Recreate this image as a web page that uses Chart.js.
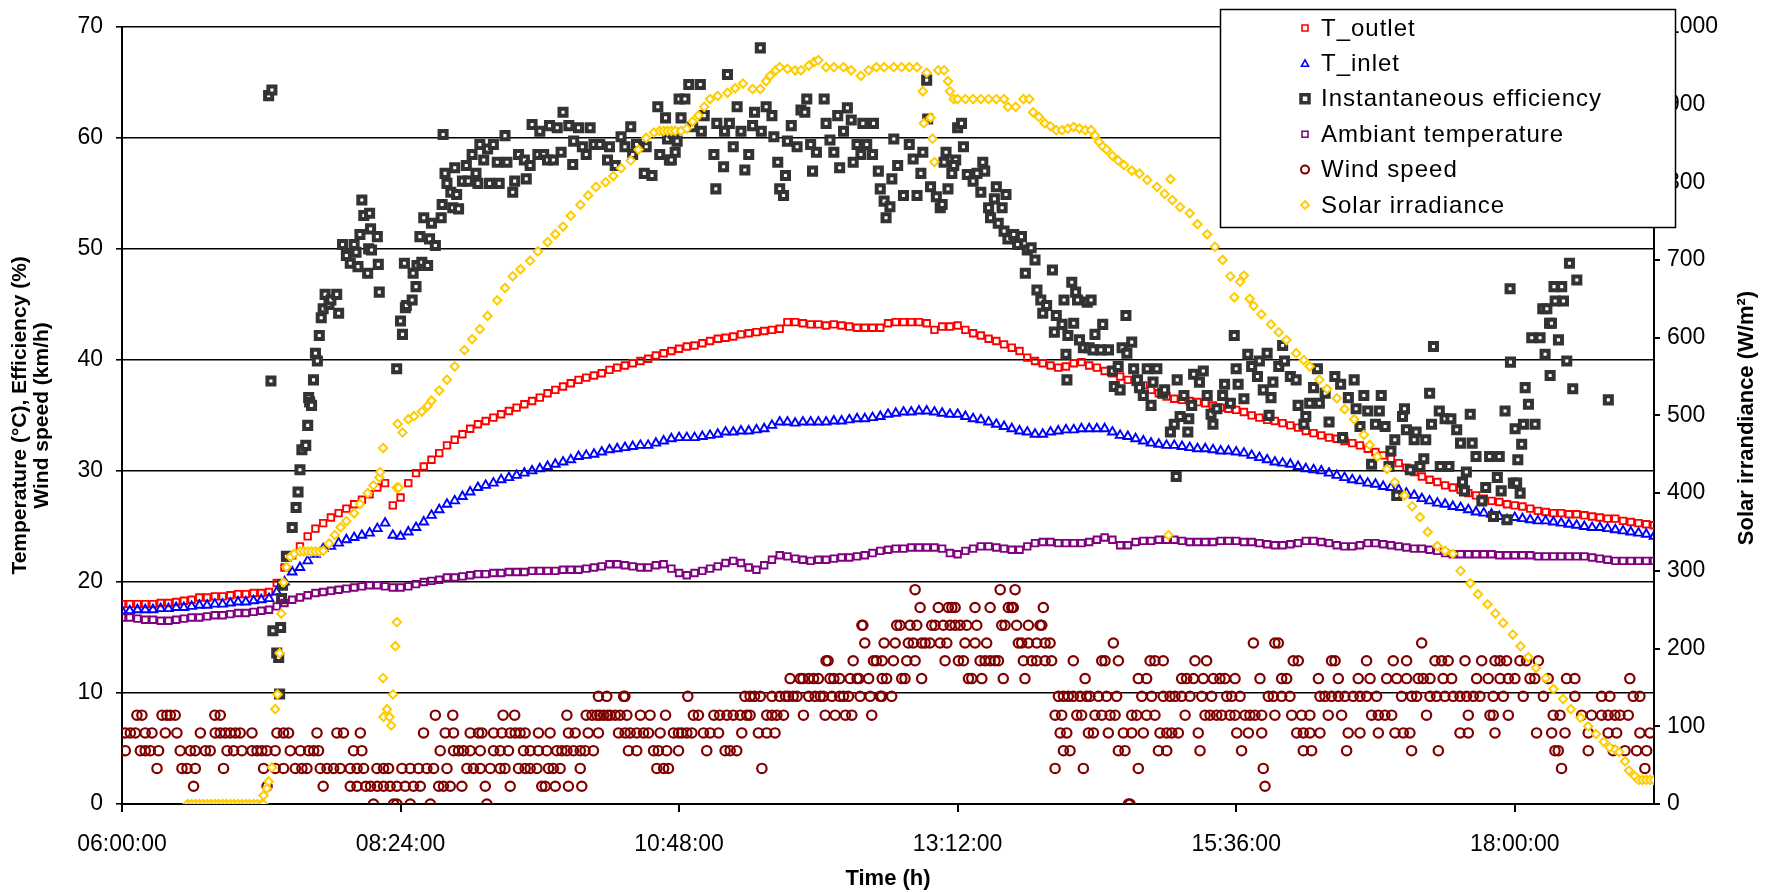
<!DOCTYPE html>
<html>
<head>
<meta charset="utf-8">
<script src="https://cdn.jsdelivr.net/npm/chart.js@4.4.1/dist/chart.umd.min.js"></script>
<style>
  html, body { margin: 0; padding: 0; background: #fff; }
  #wrap { width: 1769px; height: 892px; position: relative; }
</style>
</head>
<body>
<div id="wrap"><canvas id="solarChart"></canvas></div>
<script>
// x values are minutes after 06:00:00
const TEMP_STEP = 4; // temperature series: one reading every 4 minutes from 06:00

const tOutlet = [
  18.0,18.0,18.0,18.0,18.0,18.1,18.1,18.2,18.3,18.4,
  18.6,18.6,18.7,18.7,18.8,18.9,18.9,19.0,19.0,19.1,
  19.9,21.3,22.4,23.2,24.1,24.8,25.3,25.8,26.2,26.6,
  27.0,27.4,27.9,28.5,28.9,26.9,27.6,28.9,29.8,30.4,
  31.0,31.6,32.3,32.8,33.3,33.8,34.2,34.5,34.8,35.1,
  35.4,35.7,36.0,36.3,36.6,37.0,37.3,37.6,37.9,38.2,
  38.4,38.6,38.8,39.1,39.3,39.5,39.7,39.9,40.1,40.4,
  40.6,40.8,41.0,41.2,41.3,41.5,41.7,41.9,42.0,42.1,
  42.3,42.4,42.5,42.6,42.7,42.8,43.4,43.4,43.3,43.2,
  43.2,43.1,43.2,43.1,43.0,42.9,42.9,42.9,42.9,43.3,
  43.4,43.4,43.4,43.4,43.3,42.7,43.0,43.0,43.1,42.7,
  42.4,42.2,41.9,41.7,41.4,41.1,40.8,40.2,39.9,39.7,
  39.5,39.3,39.4,39.7,39.8,39.5,39.3,39.0,38.8,38.5,
  38.2,38.0,37.7,37.3,37.0,36.7,36.5,36.4,36.3,36.2,
  36.1,35.9,35.7,35.6,35.5,35.3,35.0,34.8,34.6,34.5,
  34.3,34.1,33.9,33.6,33.4,33.2,33.0,32.9,32.7,32.5,
  32.3,32.0,31.7,31.4,31.1,30.7,30.3,29.9,29.5,29.2,
  29.0,28.7,28.5,28.3,28.0,27.8,27.5,27.3,27.2,27.0,
  26.9,26.8,26.6,26.4,26.3,26.2,26.2,26.1,26.1,26.0,
  25.9,25.8,25.7,25.7,25.5,25.4,25.3,25.2,25.1
];

const tInlet = [
  17.4,17.4,17.5,17.5,17.5,17.6,17.6,17.7,17.7,17.8,
  17.9,17.9,18.0,18.0,18.1,18.2,18.2,18.3,18.4,18.5,
  19.1,20.0,20.9,21.3,21.9,22.5,23.0,23.2,23.5,23.8,
  24.0,24.2,24.4,24.8,25.3,24.2,24.1,24.5,24.9,25.4,
  26.0,26.5,27.0,27.3,27.7,28.1,28.5,28.7,28.9,29.2,
  29.4,29.6,29.8,30.0,30.2,30.4,30.6,30.8,31.0,31.3,
  31.4,31.5,31.7,31.9,32.0,32.1,32.2,32.3,32.3,32.5,
  32.7,32.9,33.0,33.0,33.0,33.1,33.2,33.3,33.5,33.5,
  33.6,33.6,33.7,33.8,34.1,34.4,34.4,34.3,34.4,34.4,
  34.4,34.4,34.5,34.5,34.6,34.7,34.7,34.8,34.9,35.1,
  35.2,35.3,35.3,35.4,35.4,35.3,35.2,35.1,35.1,34.9,
  34.7,34.6,34.4,34.2,34.0,33.8,33.6,33.5,33.3,33.3,
  33.5,33.6,33.7,33.7,33.8,33.8,33.8,33.8,33.5,33.2,
  33.1,32.9,32.7,32.5,32.4,32.3,32.3,32.2,32.1,32.0,
  32.0,31.9,31.8,31.8,31.7,31.6,31.4,31.2,31.0,30.8,
  30.7,30.6,30.4,30.2,30.1,30.0,29.8,29.6,29.4,29.2,
  29.1,28.9,28.8,28.6,28.5,28.3,28.0,27.8,27.5,27.3,
  27.1,27.0,26.8,26.7,26.5,26.3,26.2,26.1,25.9,25.6,
  25.8,25.7,25.6,25.5,25.5,25.4,25.3,25.2,25.1,25.0,
  24.9,24.9,24.8,24.7,24.6,24.5,24.4,24.3,24.1
];

const tAmbient = [
  16.8,16.8,16.7,16.6,16.6,16.5,16.5,16.6,16.7,16.8,
  16.8,16.9,17.0,17.0,17.1,17.2,17.2,17.3,17.4,17.5,
  17.8,18.1,18.4,18.6,18.8,19.0,19.1,19.2,19.3,19.4,
  19.5,19.6,19.7,19.7,19.6,19.5,19.5,19.6,19.8,20.0,
  20.1,20.2,20.4,20.4,20.5,20.6,20.7,20.7,20.8,20.8,
  20.9,20.9,20.9,21.0,21.0,21.0,21.0,21.1,21.1,21.1,
  21.2,21.3,21.4,21.6,21.6,21.5,21.4,21.3,21.3,21.5,
  21.6,21.2,20.8,20.6,20.8,21.0,21.2,21.4,21.7,21.9,
  21.7,21.3,21.1,21.5,22.0,22.4,22.3,22.1,22.0,21.9,
  22.0,22.0,22.1,22.2,22.2,22.3,22.4,22.6,22.8,22.9,
  23.0,23.0,23.1,23.1,23.1,23.1,23.0,22.6,22.5,22.8,
  23.0,23.2,23.2,23.1,23.0,22.9,22.9,23.2,23.5,23.6,
  23.6,23.5,23.5,23.5,23.5,23.6,23.8,24.0,23.8,23.3,
  23.3,23.6,23.7,23.7,23.8,23.8,23.8,23.7,23.6,23.6,
  23.6,23.6,23.7,23.7,23.7,23.6,23.6,23.5,23.4,23.3,
  23.3,23.4,23.5,23.7,23.7,23.6,23.5,23.3,23.2,23.2,
  23.3,23.5,23.5,23.4,23.3,23.2,23.1,23.0,23.0,22.9,
  22.8,22.6,22.5,22.5,22.5,22.5,22.5,22.5,22.4,22.4,
  22.4,22.4,22.4,22.3,22.3,22.3,22.3,22.3,22.3,22.3,
  22.2,22.1,22.0,21.9,21.9,21.9,21.9,21.9,21.9
];

// Instantaneous efficiency (%), [minute, value]
const efficiency = [
  [75.8,63.8],[77.5,64.3],[77,38.1],[78,15.6],[82,15.9],[80,13.6],[81,13.2],[81.5,9.9],[82.5,18.5],[83,19.7],
  [85,22.3],[88,24.9],[90,26.7],[91,28.1],[92,30.1],[93,31.9],[95,32.3],[96,34.1],[96.5,36.6],[97,36.2],
  [98,35.9],[99,38.2],[100,40.6],[101,39.9],[102,42.2],[103,43.8],[104,44.6],[105,45.9],[107,45.0],[108,45.4],
  [111,45.9],[112,44.2],[114,50.4],[116,49.4],[118,48.7],[120,50.4],[121,49.7],[122,48.4],[123,51.3],[124,54.4],
  [125,53.0],[127,47.8],[127.5,50.0],[128,53.2],[128.5,51.8],[129,49.9],[132,51.1],[132.5,48.6],[133,46.1],
  [142,39.2],[144,43.5],[145,42.3],[146,48.7],[146.5,44.7],[147,44.9],[150,45.4],[150.5,47.8],[152,46.6],[152.5,48.5],
  [155,48.8],[158,48.5],[154,51.1],[159,50.9],[162,50.3],[156,52.8],[160,52.3],[165,52.8],[165.5,54.0],[166,60.3],
  [167,56.8],[168,55.9],[170,55.1],[171,53.7],[174,53.6],[172,57.3],[173,54.9],[176,56.1],[178,57.5],[179,56.1],
  [181,58.5],[183,56.8],[184,55.9],[185,59.4],[187,58.0],[189,59.0],[190,55.9],[192,59.4],[194,57.8],[195,55.9],
  [198,60.2],[199,57.8],[202,55.1],[203,56.1],[205,58.5],[208,58.0],[209,56.3],[211,57.5],[212,61.2],[215,58.5],
  [216,60.6],[218,58.5],[220,58.0],[221,61.1],[223,58.0],[225,60.9],[227,58.7],[228,62.3],[231,61.1],[233,57.6],
  [233.5,59.7],[236,60.9],[238,59.2],[240,58.5],[242,60.9],[244,59.4],[247,59.4],[251,58.0],[252,59.2],[255,57.5],
  [258,60.1],[260,59.2],[263,61.0],[264,58.5],[266,59.4],[270,56.8],[274,56.6],[271,59.2],[277,62.8],[278,58.5],
  [281,61.8],[282,59.9],[283,58.0],[285,60.4],[288,63.5],[289,61.8],[284,58.0],[287,59.7],[286,58.7],[291,63.5],
  [293,64.8],[299,64.8],[295,61.0],[299.5,60.6],[301,62.0],[306,58.5],[307,55.4],[307.5,61.3],[311,57.4],[313,65.7],
  [311.5,60.6],[314,61.3],[316,59.2],[318,62.8],[320,60.6],[322,57.1],[324,58.5],[326,61.1],[327,62.3],[330,68.1],
  [330.5,60.6],[333,62.8],[336,62.0],[337,60.1],[339,57.8],[340,55.4],[342,54.8],[343,56.6],[344,59.7],[346,61.1],
  [349,59.2],[351,62.5],[353,62.3],[354,63.5],[356,59.4],[357,57.0],[359,58.7],[363,63.5],[364,61.3],[366,59.8],
  [368,58.7],[370,62.0],[371,57.3],[373,60.6],[375,62.7],[377,61.6],[378,57.8],[380,59.4],[382,58.5],[383,61.3],
  [385,59.4],[388,58.5],[388.5,61.3],[391,57.0],[392,55.4],[394,54.3],[395,52.8],[397,53.8],[398,56.3],[399,59.9],
  [401,57.5],[404,54.8],[407,59.4],[409,58.1],[411,54.8],[413,56.8],[414,58.7],[416,65.2],[416.5,61.7],[418,55.6],
  [421,54.7],[423,53.7],[425,57.8],[426,58.7],[427,55.4],[429,56.8],[431,58.0],[432,60.9],[424,54.0],[430,57.5],
  [434,61.3],[435,59.2],[437,56.7],[440,56.1],[442,56.8],[444,55.1],[445,57.8],[446,57.0],[448,53.7],[449,52.8],
  [451,54.5],[452,55.6],[453,52.3],[455,53.7],[457,54.9],[456,51.6],[458,50.9],[461,51.3],[463,50.4],[465,51.1],
  [467,47.8],[468,49.9],[470,50.1],[472,49.0],[473,46.3],[475,45.4],[476,44.2],[478,44.9],[481,48.1],[482,42.5],
  [483,44.0],[486,43.2],[487,45.4],[488,40.5],[488.5,38.2],[489,42.2],[491,47.0],[492,43.3],[493,46.1],[494,45.4],
  [495,41.8],[497,41.1],[499,45.2],[500,41.1],[501,45.4],[502,40.9],[503,42.3],[506,40.9],[507,43.2],[510,40.9],
  [512,39.0],[513,37.6],[515,39.4],[516,37.3],[519,44.0],[517,41.1],[519.5,40.6],[522,41.6],[523,39.2],[525,38.2],
  [526,37.5],[528,36.8],[530,39.2],[532,35.9],[533,38.0],[535,39.2],[538,37.0],[539,37.3],[542,33.5],[544,34.2],
  [545,29.5],[545.5,38.2],[547,34.9],[549,36.8],[551,33.5],[551.5,34.7],[553,35.9],[554,38.7],[557,38.0],[559,39.0],
  [561,36.8],[563,35.1],[564,34.2],[566,35.6],[569,36.8],[570,37.8],[573,36.1],[575,42.2],[576,39.2],[577,37.8],
  [580,36.5],[582,40.5],[584,39.4],[587,38.5],[588,39.9],[590,37.3],[592,40.6],[593,35.0],[594,36.6],[595,38.0],
  [598,39.4],[600,41.3],[601,39.9],[604,38.5],[607,38.2],[608,35.9],[611,34.2],[612,34.9],[614,36.1],[616,37.5],
  [618,39.2],[619,36.1],[622,37.0],[624,34.4],[627,38.5],[630,37.8],[631,33.0],[634,36.6],[637,38.2],[638,35.6],
  [640,34.0],[642,36.8],[644,35.4],[646,30.6],[648,34.2],[650,35.4],[651,36.8],[653,34.0],[655,30.4],[656,31.8],
  [658,32.8],[659,27.8],[662,34.9],[663,35.6],[664,33.7],[666,30.1],[668,32.8],[669,33.5],[671,30.4],[673,31.1],
  [674,32.8],[676,37.0],[677,34.2],[678,41.2],[681,35.4],[681.5,30.4],[684,34.7],[686,30.4],[687,34.7],[690,33.7],
  [692,32.5],[693,29.0],[694,28.2],[695,29.9],[697,35.1],[698,32.5],[700,31.3],[703,27.3],[705,28.5],[707,31.3],
  [709,25.9],[711,29.4],[712,31.3],[713,28.2],[715,35.4],[716,25.6],[717.6,46.4],[717.8,39.8],[719.3,28.9],[720.2,33.8],
  [721,28.9],[721.6,31.0],[722.8,28.0],[723.6,32.4],[724.5,34.2],[725.4,37.5],[727.1,36.0],[728.8,42.0],[730.5,34.2],[733.1,42.0],
  [734.5,44.6],[735.7,40.5],[736.6,44.6],[738,43.3],[738.3,38.6],[739,43.3],[740.3,46.6],[740.9,45.3],[742.6,41.8],[744.3,46.6],
  [745.2,45.3],[746.9,39.9],[748.3,48.7],[750,37.4],[752.1,47.2],[768.4,36.4]
];

// Solar irradiance (W/m2), [minute, value]
const irradiance = [
  [34,0],[36,0],[38,0],[40,0],[42,0],[44,0],[46,0],[48,0],[50,0],[52,0],[54,0],[56,0],[58,0],[60,0],
  [62,0],[64,0],[66,0],[68,0],[70,0],[72,0],[73,0],
  [73.2,11],[74.9,20],[75.8,29],[77.5,47],[79.2,122],[80.4,141],[81.5,194],[82.3,245],[83.5,285],[85,305],
  [87,318],[89,322],[92,325],[94,325],[96,325],[98,325],[100,325],[102,325],[104,326],[107,335],[110,346],[113,356],[116,364],
  [120,374],[123,386],[127,400],[130,410],[133,420],[133.5,427],[135,458],[134.9,162],[135.2,112],[137,122],
  [138.3,112],[139.2,101],[140.1,141],[141.3,203],[142.1,234],[142,407],[143,407],[142.5,489],[145,478],[148,495],
  [151,499],[155,505],[158,512],[160,519],[164,532],[168,546],[172,563],[177,584],[181,598],[185,611],
  [189,628],[194,648],[198,664],[202,679],[206,688],[211,699],[215,711],[220,723],[224,733],[228,743],
  [232,757],[237,771],[241,783],[245,794],[250,800],[254,808],[258,818],[263,828],[267,842],[271,857],
  [275,864],[278,866],[280,866],[282,866],[284,866],[286,866],[289,866],[292,869],[295,878],[298,886],[301,897],[304,907],[308,911],
  [313,915],[317,921],[321,927],[326,920],[330,920],[333,930],[335,937],[338,944],[340,948],[344,946],
  [348,944],[351,944],[355,950],[358,955],[360,957],[364,948],[368,948],[373,948],[377,944],[382,937],
  [386,944],[390,948],[394,948],[399,948],[403,948],[407,948],[411,948],[414,917],[414.5,876],[416,941],
  [418,883],[419,856],[420,826],[422,944],[425,944],[427,930],[428,917],[430,907],[432,907],[436,907],
  [440,907],[444,907],[448,907],[452,907],[456,907],[458,897],[462,897],[466,907],[469,907],[471,890],
  [474,884],[477,876],[480,872],[483,867],[486,867],[489,869],[492,871],[495,869],[498,867],[501,867],
  [503,860],[505,852],[507,846],[509,842],[512,834],[515,828],[518,822],[522,815],[526,811],[530,803],
  [535,794],[539,785],[542,804],[543,777],[547,768],[552,760],[556,746],[561,733],[565,717],[569,700],
  [573,679],[575,652],[578,672],[580,680],[583,650],[585,641],[589,630],[594,617],[598,607],[602,597],
  [607,580],[611,571],[614,563],[619,546],[623,534],[628,522],[632,508],[637,495],[642,475],[645,462],
  [649,447],[654,431],[658,414],[663,397],[667,383],[671,369],[675,350],[680,332],[684,326],[688,322],
  [692,300],[697,284],[701,270],[706,257],[710,245],[714,233],[719,218],[723,203],[727,189],[731,175],
  [736,162],[740,148],[745,135],[749,122],[754,111],[758,100],[762,90],[766,80],[769,73],[772,70],
  [774,67],[777,55],[779,43],[782,36],[784,31],[786,31],[788,31],[790,31],[792,31],[541,346]
];

// Wind speed (km/h): each speed level with the minutes where it was recorded
const windByLevel = [
  [0.0,  [130,140.4,142.1,149,159.4,188.6,520.3,521.1]],
  [1.6,  [37,75,104,118,121.5,126,128.5,132,135.2,138.6,142.1,146.4,150.7,154.2,163.7,166.2,169.7,175.7,187.8,
          200.7,217,218.8,224,230.8,237.7,590.9]],
  [3.2,  [18.1,31,33.6,37.9,52.5,73.2,79.2,83.5,89.6,93,95.6,102.5,106,109.4,112.8,118,121.5,124.9,131.8,135.2,
          137.8,144.7,149,153.3,157.6,161.1,168,178.3,181.7,185.2,190.4,195.5,198,205,208.4,211,214.5,220.5,223,
          226.5,236.9,276.5,280,282.5,330.8,482.4,497,525.4,590,744.2,787.3]],
  [4.8,  [1.7,9.5,12,14.6,18.9,30.1,35.3,37.9,43.1,45.6,54.3,57.7,62,67.2,69.8,72.3,74.9,79.2,87,92.2,96.5,99.1,
          101.6,119.7,124,164.5,171.4,174,176.6,180,185.2,192.1,195.5,199.8,207.6,211,215.3,219.6,224.8,227.4,230,
          233.4,236.9,239.4,243.7,261.8,266.1,274.8,277.3,281.6,287.7,302.3,311.8,314.4,317.8,486.7,490.1,515.1,
          518.5,535.8,540.1,557.3,578.8,610.7,615,633.1,666.7,680.5,740.8,742.5,758,770.9,777,783,788.2]],
  [6.4,  [1.7,4.3,6.9,12,15.5,22.4,28.4,40.5,48.2,50.8,53.4,56,58.6,61.1,67.2,80.1,83.5,86.1,100.8,111.1,114.5,
          123.2,155.9,167.1,171.4,180,184.3,186.1,192.1,196.4,200.7,203.3,205.8,208.4,215.3,221.3,230.8,234.3,241,
          246.3,256.7,260.1,262.7,266.1,269.6,272.2,278.2,285.1,287.7,289.4,292,294.6,300.6,304,308.4,320.4,329,
          333.3,337.6,485,488.4,499.6,502.2,509.9,517.7,522,528,536.6,540.1,542.7,546.1,556.4,576.3,582.3,589.2,
          607.3,610.7,614.1,619.3,633.9,640,649.5,658.1,662.4,665.8,691.7,696,709.8,731.3,739.1,746,758,768.3,
          772.7,784.7,789.9]],
  [8.0,  [7.7,10.3,20.7,23.2,25,27.5,48,50.8,162,171,197,203,230,240,243,245.5,247,249,251,252.4,255,257.5,261,
          268,273,281,295.4,298,306,309,312.7,316,319.6,323,324.7,333.3,336,338.5,342,352.3,363.5,368.7,374,377.3,
          387.6,482.4,485.8,493.6,496.1,503,506.5,510.8,513.4,522,524.6,529.7,534,549.6,559.9,562.5,565.9,568.5,
          572.8,575.4,580.6,583.1,585.7,589.2,596,604.7,609.8,614.1,623.6,630.5,646,649.5,652.9,656.4,674.4,696,
          707.2,708.9,716.7,739.9,743.4,754.6,759.7,764.9,768.3,771.8,774.4,778.7]],
  [9.7,  [246.3,250.6,259.3,260,292.5,322,324.7,327,330,336,340,343,344.5,347,349,355,358.3,361,362.6,367,371,373,
          375.6,381.6,386.8,392,392.8,397.9,484.1,486.7,489.2,491.8,495.3,498.7,500.4,504.8,509,514.2,527.2,532.3,
          538.3,541.8,544.4,547.8,552.1,558.2,563.3,571.1,573.7,578,592.6,595.2,599.5,603.8,619.3,621.9,625.3,
          628.8,632.2,636.5,640,643.4,648.6,661.5,666.7,669.3,676.2,679.6,683.9,688.2,691.7,695.1,698.6,702,708.9,
          714.1,724.4,734.8,751.1,764.9,769.2,781.3,784.7]],
  [11.3, [345.4,350.6,352,355,357.5,360,366,368,371,376.4,380,381,386,393,395.3,403.1,404.8,413.4,437.6,439.3,444.5,
          455.6,466.8,497.9,525.4,529.7,547.8,550.4,553.9,559,564.2,567.6,570.2,575.4,588.3,599.5,602.1,618.5,
          628.8,639.1,645.2,653.8,659,664.1,670.1,672.7,676.2,683,687.4,700.3,706.3,712.4,716.7,720.1,727.9,730.4,
          737.3,746.8,751.1,779.5]],
  [12.9, [364,365,378,388.5,390,393,398.8,405.7,410,425.5,432.4,435,443.6,446.2,448.8,451.3,453.1,466,470.3,
          472.9,477.2,480.6,491.8,506.5,508.2,515.1,531.5,534,538.3,554.7,560.7,605.5,608.1,625.3,627.1,643.4,657.2,
          664.1,678.8,682.2,685.6,694.3,702.9,709.8,712.4,715.8,722.7,726.1,732.2]],
  [14.5, [384,394,399.7,406.5,409.1,413.4,415.2,417.7,422.9,426.4,435.8,441,447,463.4,465.1,468.6,472.9,477.2,479.8,
          512.5,584.9,596,597.8,671.9]],
  [16.1, [382.5,383,400.5,402.2,407.4,410.9,418.6,420.3,424.6,428.1,430.7,433.3,436.7,441.9,454.8,456.5,462.5,
          468.6,474.6,475.5]],
  [17.7, [412.6,422,427.2,429,430.7,441,448.8,458.2,460,460.8,476.3]],
  [19.3, [410,454,461.7]]
];

const xTicks = [0, 144, 288, 432, 576, 720];
const X_MAX = 792; // 19:12

function uniformSeries(vals) {
  return vals.map((v, i) => ({ x: i * TEMP_STEP, y: v }));
}
function pairSeries(pairs) {
  return pairs.map(p => ({ x: p[0], y: p[1] }));
}
function windSeries() {
  const pts = [];
  windByLevel.forEach(([speed, times]) => {
    times.forEach(t => pts.push({ x: t, y: speed }));
  });
  return pts;
}
function clock(min) {
  const tot = 360 + min;
  const h = Math.floor(tot / 60);
  const m = Math.round(tot % 60);
  return String(h).padStart(2, '0') + ':' + String(m).padStart(2, '0') + ':00';
}

const FONT = "'Liberation Sans', Arial, sans-serif";

// legend and right axis title drawn by hand to match the original layout
const legendItems = [
  { label: 'T_outlet', shape: 'square', color: '#FF0000', size: 6, lw: 1.6 },
  { label: 'T_inlet', shape: 'triangle', color: '#0000FF', size: 7, lw: 1.6 },
  { label: 'Instantaneous efficiency', shape: 'square', color: '#333333', size: 8, lw: 3.5 },
  { label: 'Ambiant temperature', shape: 'square', color: '#800080', size: 6, lw: 1.6 },
  { label: 'Wind speed', shape: 'circle', color: '#800000', size: 8, lw: 2 },
  { label: 'Solar irradiance', shape: 'diamond', color: '#FFCC00', size: 8, lw: 1.8 }
];

const extras = {
  id: 'extras',
  afterDraw(chart) {
    const ctx = chart.ctx;
    ctx.save();
    // right axis title
    ctx.translate(1747, 418);
    ctx.rotate(-Math.PI / 2);
    ctx.fillStyle = '#000';
    ctx.font = 'bold 22px ' + FONT;
    ctx.textAlign = 'center';
    ctx.textBaseline = 'middle';
    ctx.fillText('Solar irrandiance (W/m²)', 0, 0);
    ctx.restore();

    // legend box
    ctx.save();
    ctx.fillStyle = '#fff';
    ctx.fillRect(1220, 9, 455, 218);
    ctx.strokeStyle = '#000';
    ctx.lineWidth = 1.5;
    ctx.strokeRect(1220.5, 9.5, 455, 218);
    ctx.font = '24px ' + FONT;
    ctx.letterSpacing = '1px';
    ctx.textBaseline = 'middle';
    legendItems.forEach((it, i) => {
      const y = 28 + i * 35.4;
      const x = 1305;
      const s = it.size / 2;
      ctx.strokeStyle = it.color;
      ctx.lineWidth = it.lw;
      ctx.fillStyle = '#fff';
      ctx.beginPath();
      if (it.shape === 'square') {
        ctx.rect(x - s, y - s, 2 * s, 2 * s);
      } else if (it.shape === 'triangle') {
        ctx.moveTo(x, y - s); ctx.lineTo(x + s, y + s * 0.8); ctx.lineTo(x - s, y + s * 0.8); ctx.closePath();
      } else if (it.shape === 'circle') {
        ctx.arc(x, y, s, 0, Math.PI * 2);
      } else {
        ctx.moveTo(x, y - s); ctx.lineTo(x + s, y); ctx.lineTo(x, y + s); ctx.lineTo(x - s, y); ctx.closePath();
      }
      ctx.fill();
      ctx.stroke();
      ctx.fillStyle = '#000';
      ctx.fillText(it.label, 1321, y + 1);
    });
    ctx.restore();
  }
};

const ctx = document.getElementById('solarChart').getContext('2d');

new Chart(ctx, {
  type: 'scatter',
  data: {
    datasets: [
      {
        label: 'T_outlet', data: uniformSeries(tOutlet), yAxisID: 'y', order: 6,
        pointStyle: 'rect', pointRadius: 4.6, borderColor: '#FF0000', backgroundColor: 'rgba(0,0,0,0)', borderWidth: 1.9
      },
      {
        label: 'T_inlet', data: uniformSeries(tInlet), yAxisID: 'y', order: 5,
        pointStyle: 'triangle', pointRadius: 5, borderColor: '#0000FF', backgroundColor: 'rgba(0,0,0,0)', borderWidth: 1.9
      },
      {
        label: 'Instantaneous efficiency', data: pairSeries(efficiency), yAxisID: 'y', order: 4,
        pointStyle: 'rect', pointRadius: 5, borderColor: '#333333', backgroundColor: '#ffffff', borderWidth: 4
      },
      {
        label: 'Ambiant temperature', data: uniformSeries(tAmbient), yAxisID: 'y', order: 3,
        pointStyle: 'rect', pointRadius: 4.6, borderColor: '#800080', backgroundColor: 'rgba(0,0,0,0)', borderWidth: 1.9
      },
      {
        label: 'Wind speed', data: windSeries(), yAxisID: 'y', order: 2,
        pointStyle: 'circle', pointRadius: 4.7, borderColor: '#800000', backgroundColor: 'rgba(0,0,0,0)', borderWidth: 2.2
      },
      {
        label: 'Solar irradiance', data: pairSeries(irradiance), yAxisID: 'y2', order: 1,
        pointStyle: 'rectRot', pointRadius: 4.2, borderColor: '#FFCC00', backgroundColor: '#ffffff', borderWidth: 2
      }
    ]
  },
  options: {
    responsive: true,
    maintainAspectRatio: false,
    animation: false,
    events: [],
    layout: { padding: { top: 25, left: 0, right: 0, bottom: 0 } },
    plugins: {
      legend: { display: false },
      tooltip: { enabled: false }
    },
    scales: {
      x: {
        type: 'linear',
        min: 0,
        max: X_MAX,
        afterBuildTicks: s => { s.ticks = xTicks.map(v => ({ value: v })); },
        afterFit: s => { s.height = 88; },
        border: { display: true, color: '#000', width: 2 },
        grid: { drawOnChartArea: false, drawTicks: true, tickLength: 8, color: '#000', lineWidth: 2 },
        ticks: {
          color: '#000', padding: 19, maxRotation: 0, autoSkip: false,
          font: { family: FONT, size: 23 },
          callback: v => clock(v)
        },
        title: {
          display: true, text: 'Time (h)', color: '#000',
          font: { family: FONT, size: 22, weight: 'bold' },
          padding: { top: 0, bottom: 0 }
        }
      },
      y: {
        position: 'left',
        min: 0,
        max: 70,
        afterFit: s => { s.width = 122; },
        border: { display: true, color: '#000', width: 2 },
        grid: { color: '#000', lineWidth: 1.6, drawTicks: true, tickLength: 6 },
        ticks: {
          stepSize: 10, color: '#000', padding: 13,
          font: { family: FONT, size: 23 }
        },
        title: {
          display: true,
          text: ['Temperature (°C), Efficiency (%)', 'Wind speed (km/h)'],
          color: '#000',
          font: { family: FONT, size: 21, weight: 'bold', lineHeight: 1.05 },
          padding: { top: 9, bottom: 0 }
        }
      },
      y2: {
        position: 'right',
        min: 0,
        max: 1000,
        afterFit: s => { s.width = 115; },
        border: { display: true, color: '#000', width: 2 },
        grid: { drawOnChartArea: false, drawTicks: true, tickLength: 6, color: '#000', lineWidth: 2 },
        ticks: {
          stepSize: 100, color: '#000', padding: 7,
          font: { family: FONT, size: 23 },
          callback: v => String(v)
        }
      }
    }
  },
  plugins: [extras]
});
</script>
</body>
</html>
